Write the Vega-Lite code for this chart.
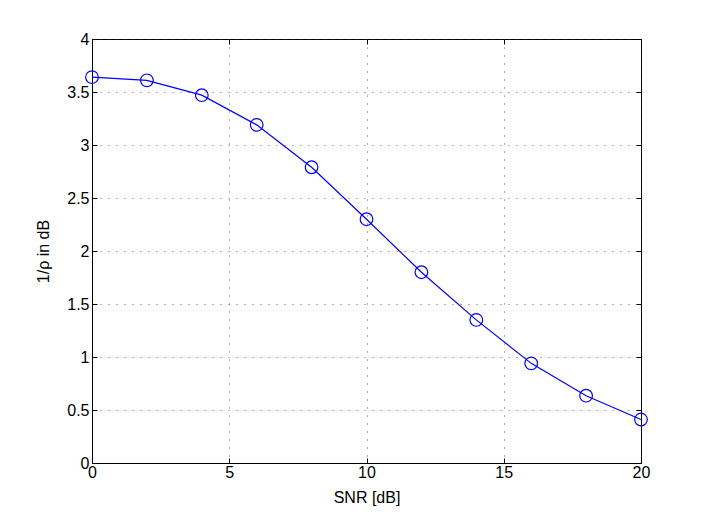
{
  "$schema": "https://vega.github.io/schema/vega-lite/v6.json",
  "width": 549,
  "height": 424,
  "autosize": {"type": "none"},
  "padding": {"left": 92, "top": 39, "right": 67, "bottom": 55},
  "background": "white",
  "config": {
    "view": {"stroke": "black", "strokeWidth": 1},
    "font": "Liberation Sans",
    "axis": {
      "labelFont": "Liberation Sans",
      "titleFont": "Liberation Sans",
      "labelFontSize": 16,
      "titleFontSize": 16,
      "titleFontWeight": "normal",
      "labelColor": "black",
      "titleColor": "black",
      "domainColor": "black",
      "tickColor": "black",
      "tickSize": -5,
      "labelFlush": false,
      "labelOverlap": false,
      "gridColor": "#444444",
      "gridDash": [1, 7],
      "gridOpacity": 0.8,
      "format": "~g"
    }
  },
  "data": {
    "values": [
      {"snr": 0, "v": 3.64},
      {"snr": 2, "v": 3.61},
      {"snr": 4, "v": 3.47},
      {"snr": 6, "v": 3.19},
      {"snr": 8, "v": 2.79},
      {"snr": 10, "v": 2.3},
      {"snr": 12, "v": 1.8},
      {"snr": 14, "v": 1.35},
      {"snr": 16, "v": 0.94},
      {"snr": 18, "v": 0.635},
      {"snr": 20, "v": 0.41}
    ]
  },
  "layer": [
    {
      "mark": {"type": "line", "color": "#0000ff", "strokeWidth": 1.2},
      "encoding": {
        "x": {"field": "snr", "type": "quantitative", "scale": {"domain": [0, 20], "nice": false},
          "axis": {"title": "SNR [dB]", "values": [0, 5, 10, 15, 20], "grid": true, "labelPadding": 6, "titlePadding": 9}},
        "y": {"field": "v", "type": "quantitative", "scale": {"domain": [0, 4], "nice": false},
          "axis": {"title": "1/ρ in dB", "values": [0, 0.5, 1, 1.5, 2, 2.5, 3, 3.5, 4], "grid": true, "labelPadding": 8, "titlePadding": 15}}
      }
    },
    {
      "mark": {"type": "point", "shape": "circle", "color": "#0000ff", "filled": false, "size": 160, "strokeWidth": 1.2, "opacity": 1},
      "encoding": {
        "x": {"field": "snr", "type": "quantitative",
          "axis": {"orient": "top", "title": null, "labels": false, "values": [0, 5, 10, 15, 20], "grid": false, "domain": false}},
        "y": {"field": "v", "type": "quantitative",
          "axis": {"orient": "right", "title": null, "labels": false, "values": [0, 0.5, 1, 1.5, 2, 2.5, 3, 3.5, 4], "grid": false, "domain": false}}
      }
    }
  ],
  "resolve": {"axis": {"x": "independent", "y": "independent"}}
}
